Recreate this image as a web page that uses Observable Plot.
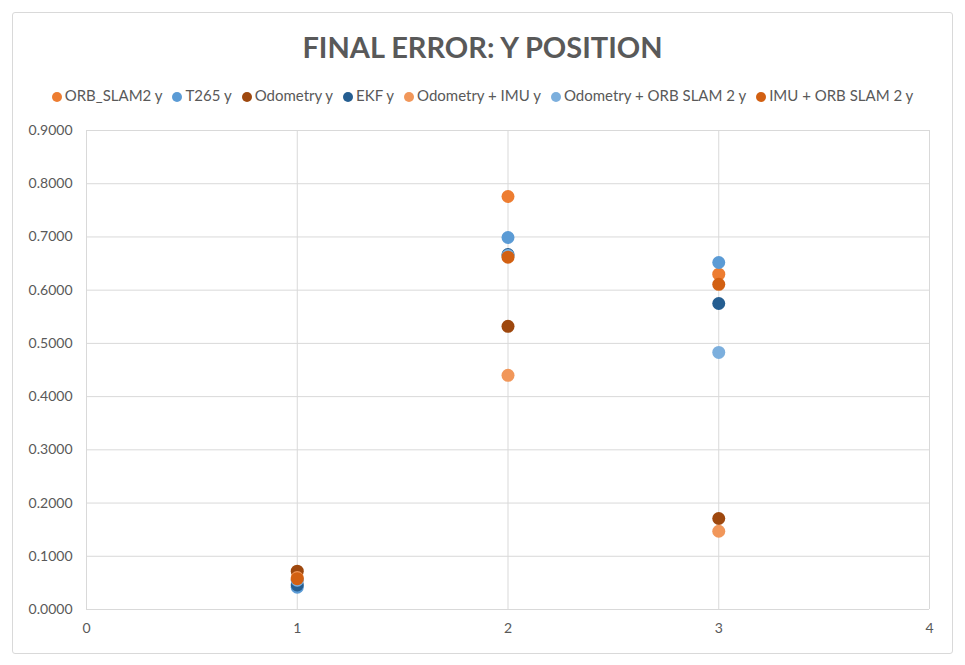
<!DOCTYPE html>
<html>
<head>
<meta charset="utf-8">
<script src="https://cdn.jsdelivr.net/npm/d3@7"></script>
<script src="https://cdn.jsdelivr.net/npm/@observablehq/plot@0.6"></script>
<style>
  body { margin: 0; background: #fff; font-family: Lato, "Open Sans", sans-serif; }
  #frame { position: absolute; left: 12px; top: 12px; width: 939px; height: 640px; border: 1px solid #d9d9d9; border-radius: 3px; }
  #title { position: absolute; left: 0; top: 29px; width: 965px; text-align: center; font-size: 29px; font-weight: bold; color: #595959; }
  #legend { position: absolute; left: 0; top: 86px; width: 965px; display: flex; justify-content: center; gap: 10px; font-size: 15px; color: #595959; }
  #legend span.sw { display: inline-block; width: 10px; height: 10px; border-radius: 50%; margin-right: 3px; vertical-align: -1px; }
  #chart { position: absolute; left: 0; top: 110px; }
</style>
</head>
<body>
<div id="frame"></div>
<div id="title">FINAL ERROR: Y POSITION</div>
<div id="legend"></div>
<div id="chart"></div>
<script>
const seriesNames = ["ORB_SLAM2 y", "T265 y", "Odometry y", "EKF y", "Odometry + IMU y", "Odometry + ORB SLAM 2 y", "IMU + ORB SLAM 2 y"];
const seriesColors = ["#ED7D31", "#5B9BD5", "#9E480E", "#255E91", "#F1975A", "#7CAFDD", "#D26012"];
const xValues = [1, 2, 3];
const orbSlam2 = [0.056, 0.776, 0.630];
const t265 = [0.042, 0.699, 0.652];
const odometry = [0.072, 0.532, 0.171];
const ekf = [0.046, 0.667, 0.575];
const odomImu = [0.060, 0.440, 0.147];
const odomOrb = [0.055, 0.665, 0.483];
const imuOrb = [0.058, 0.662, 0.611];
const yTicks = [0, 0.1, 0.2, 0.3, 0.4, 0.5, 0.6, 0.7, 0.8, 0.9];
const xTicks = [0, 1, 2, 3, 4];

const allSeries = [orbSlam2, t265, odometry, ekf, odomImu, odomOrb, imuOrb];
const data = [];
allSeries.forEach((vals, i) => vals.forEach((v, j) => data.push({series: seriesNames[i], x: xValues[j], y: v})));

const legend = document.getElementById("legend");
seriesNames.forEach((n, i) => {
  const d = document.createElement("div");
  d.innerHTML = `<span class="sw" style="background:${seriesColors[i]}"></span>${n}`;
  legend.appendChild(d);
});

const chart = Plot.plot({
  width: 965,
  height: 540,
  marginTop: 20,
  marginBottom: 41,
  marginLeft: 86,
  marginRight: 36,
  style: { fontFamily: "Lato, 'Open Sans', sans-serif", fontSize: "14px", color: "#595959" },
  x: { domain: [0, 4], label: null },
  y: { domain: [0, 0.9], label: null },
  color: { domain: seriesNames, range: seriesColors },
  marks: [
    Plot.gridY(yTicks, { stroke: "#d9d9d9", strokeOpacity: 1, strokeWidth: 1 }),
    Plot.gridX(xTicks, { stroke: "#d9d9d9", strokeOpacity: 1, strokeWidth: 1 }),
    Plot.axisX({ ticks: xTicks, tickSize: 0, tickPadding: 14, tickFormat: d3.format("d"), fill: "#595959", fontSize: 14 }),
    Plot.axisY({ ticks: yTicks, tickSize: 0, tickPadding: 14, tickFormat: d3.format(".4f"), fill: "#595959", fontSize: 14 }),
    Plot.dot(data, { x: "x", y: "y", fill: "series", r: 6.5, stroke: null })
  ]
});
document.getElementById("chart").appendChild(chart);
</script>
</body>
</html>
